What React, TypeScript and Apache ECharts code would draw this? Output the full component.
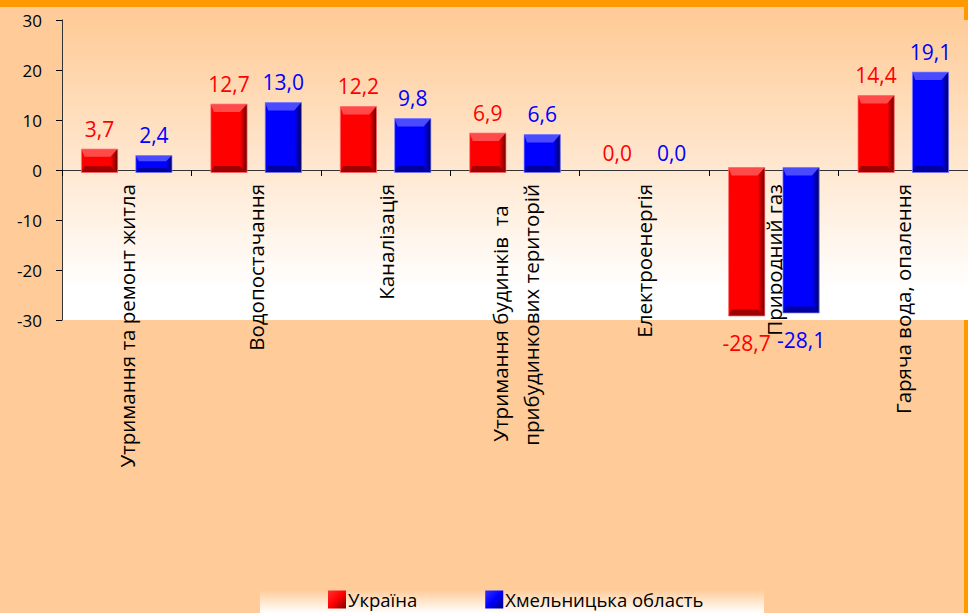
import React, { useEffect, useRef } from "react";
import * as echarts from "echarts";

const categories = [
  "Утримання та ремонт житла",
  "Водопостачання",
  "Каналізація",
  "Утримання будинків  та    \nприбудинкових територій",
  "Електроенергія",
  "Природний газ",
  "Гаряча вода, опалення",
];
const ukraine = [3.7, 12.7, 12.2, 6.9, 0.0, -28.7, 14.4];
const khmelnytska = [2.4, 13.0, 9.8, 6.6, 0.0, -28.1, 19.1];
const seriesNames = ["Україна", "Хмельницька область"];
const yMin = -30;
const yMax = 30;
const yInterval = 10;

const FONT = "Open Sans";

const fmt = (v: number) => v.toFixed(1).replace(".", ",");

type Palette = {
  face: string;
  light: string;
  dark: string;
  darker: string;
  text: string;
  edge: string;
};

const redPal: Palette = {
  face: "#FF0000",
  light: "#FF4A4A",
  dark: "#6A0000",
  darker: "#A00000",
  text: "#FF0000",
  edge: "rgba(255,120,120,0.7)",
};
const bluePal: Palette = {
  face: "#0000FF",
  light: "#4A4AFF",
  dark: "#000060",
  darker: "#0000A0",
  text: "#0000FF",
  edge: "rgba(140,140,255,0.7)",
};

function makeRender(offsetFrac: number, pal: Palette) {
  return (params: any, api: any) => {
    const idx = api.value(0);
    const val = api.value(1);
    const p0 = api.coord([idx, 0]);
    const p1 = api.coord([idx, val]);
    const band = api.size([1, 0])[0];
    const w = band * 0.28;
    const cx = p0[0] + offsetFrac * band;
    const x0 = cx - w / 2;
    const x1 = cx + w / 2;
    const pad = 2.5;
    const yTop = Math.min(p0[1], p1[1]) - pad;
    const yBot = Math.max(p0[1], p1[1]) + pad;
    const h = yBot - yTop;
    const children: any[] = [];
    if (val !== 0) {
      const bt = Math.min(8, h / 3);
      const bs = Math.min(7, h / 3, w / 4);
      const bl = Math.min(3, h / 4);
      children.push({
        type: "rect",
        shape: { x: x0, y: yTop, width: w, height: h },
        style: { fill: pal.face },
      });
      children.push({
        type: "polygon",
        shape: {
          points: [
            [x0, yTop],
            [x1, yTop],
            [x1 - bs, yTop + bt],
            [x0 + bl, yTop + bt],
          ],
        },
        style: { fill: pal.light },
      });
      children.push({
        type: "polygon",
        shape: {
          points: [
            [x0, yBot],
            [x1, yBot],
            [x1 - bs, yBot - bt * 0.8],
            [x0 + bl, yBot - bt * 0.8],
          ],
        },
        style: { fill: pal.darker },
      });
      children.push({
        type: "polygon",
        shape: {
          points: [
            [x1, yTop],
            [x1, yBot],
            [x1 - bs, yBot - bt * 0.8],
            [x1 - bs, yTop + bt],
          ],
        },
        style: {
          fill: new echarts.graphic.LinearGradient(0, 0, 1, 0, [
            { offset: 0, color: pal.face },
            { offset: 1, color: pal.dark },
          ]),
        },
      });
      children.push({
        type: "rect",
        shape: { x: x0, y: yTop, width: w, height: h },
        style: { fill: "none", stroke: pal.edge, lineWidth: 1 },
      });
    }
    let labelY: number;
    if (val > 0) labelY = yTop - 20.5;
    else if (val < 0) labelY = yBot + 27;
    else labelY = p0[1] - 17;
    children.push({
      type: "text",
      style: {
        text: fmt(val),
        x: cx,
        y: labelY,
        align: "center",
        verticalAlign: "middle",
        fill: pal.text,
        fontSize: 21,
        fontFamily: FONT,
      },
    });
    return { type: "group", children };
  };
}

export default function App() {
  const ref = useRef<HTMLDivElement>(null);
  useEffect(() => {
    if (!ref.current) return;
    const chart = echarts.init(ref.current, undefined, { renderer: "svg" });
    const option: any = {
      animation: false,
      backgroundColor: "#FFCC99",
      graphic: [
        {
          type: "rect",
          shape: { x: 0, y: 0, width: 968, height: 7 },
          style: { fill: "#FF9900" },
        },
        {
          type: "rect",
          shape: { x: 964, y: 0, width: 4, height: 20 },
          style: { fill: "#FF9900" },
        },
        {
          type: "rect",
          shape: { x: 964, y: 320, width: 4, height: 293 },
          style: { fill: "#FF9900" },
        },
        {
          type: "rect",
          shape: { x: 260, y: 590, width: 504, height: 23 },
          style: {
            fill: new echarts.graphic.LinearGradient(0, 0, 0, 1, [
              { offset: 0, color: "#FFCC99" },
              { offset: 1, color: "#FFFFFF" },
            ]),
          },
        },
      ],
      grid: {
        left: 62,
        right: -8,
        top: 20,
        bottom: 293,
        show: true,
        borderWidth: 0,
        backgroundColor: new echarts.graphic.LinearGradient(0, 0, 0, 1, [
          { offset: 0, color: "#FFCC99" },
          { offset: 0.9, color: "#FFFFFF" },
          { offset: 1, color: "#FFFFFF" },
        ]),
      },
      legend: {
        left: 328,
        top: 590,
        padding: 0,
        itemWidth: 18,
        itemHeight: 18,
        itemGap: 68,
        icon: "rect",
        textStyle: {
          fontSize: 18.5,
          color: "#000",
          fontFamily: FONT,
          padding: [0, 0, 0, -3],
        },
        data: [
          {
            name: seriesNames[0],
            itemStyle: {
              color: new echarts.graphic.LinearGradient(0, 0, 1, 1, [
                { offset: 0, color: "#FF3030" },
                { offset: 0.5, color: "#FF0000" },
                { offset: 1, color: "#800000" },
              ]),
            },
          },
          {
            name: seriesNames[1],
            itemStyle: {
              color: new echarts.graphic.LinearGradient(0, 0, 1, 1, [
                { offset: 0, color: "#3030FF" },
                { offset: 0.5, color: "#0000FF" },
                { offset: 1, color: "#000080" },
              ]),
            },
          },
        ],
      },
      xAxis: {
        type: "category",
        data: categories,
        position: "bottom",
        offset: -150,
        axisLine: { onZero: false, lineStyle: { color: "#333", width: 1 } },
        axisTick: {
          show: true,
          alignWithLabel: false,
          interval: 0,
          length: 6,
          lineStyle: { color: "#000" },
        },
        axisLabel: {
          rotate: 90,
          interval: 0,
          margin: 14,
          fontSize: 20.5,
          lineHeight: 31,
          color: "#000",
          fontFamily: FONT,
        },
        splitLine: { show: false },
      },
      yAxis: {
        type: "value",
        min: yMin,
        max: yMax,
        interval: yInterval,
        axisLine: { show: true, lineStyle: { color: "#333", width: 1 } },
        axisTick: { show: true, length: 6, lineStyle: { color: "#000" } },
        axisLabel: {
          fontSize: 17,
          color: "#000",
          margin: 20,
          fontFamily: FONT,
        },
        splitLine: { show: false },
      },
      series: [
        {
          name: seriesNames[0],
          type: "custom",
          itemStyle: { color: "#FF0000" },
          renderItem: makeRender(-0.21, redPal),
          data: ukraine.map((v, i) => [i, v]),
          encode: { x: 0, y: 1 },
          z: 3,
        },
        {
          name: seriesNames[1],
          type: "custom",
          itemStyle: { color: "#0000FF" },
          renderItem: makeRender(0.21, bluePal),
          data: khmelnytska.map((v, i) => [i, v]),
          encode: { x: 0, y: 1 },
          z: 3,
        },
      ],
    };
    chart.setOption(option);
    return () => chart.dispose();
  }, []);
  return (
    <div
      ref={ref}
      style={{
        position: "fixed",
        left: 0,
        top: 0,
        width: 968,
        height: 613,
        background: "#FFCC99",
      }}
    />
  );
}
